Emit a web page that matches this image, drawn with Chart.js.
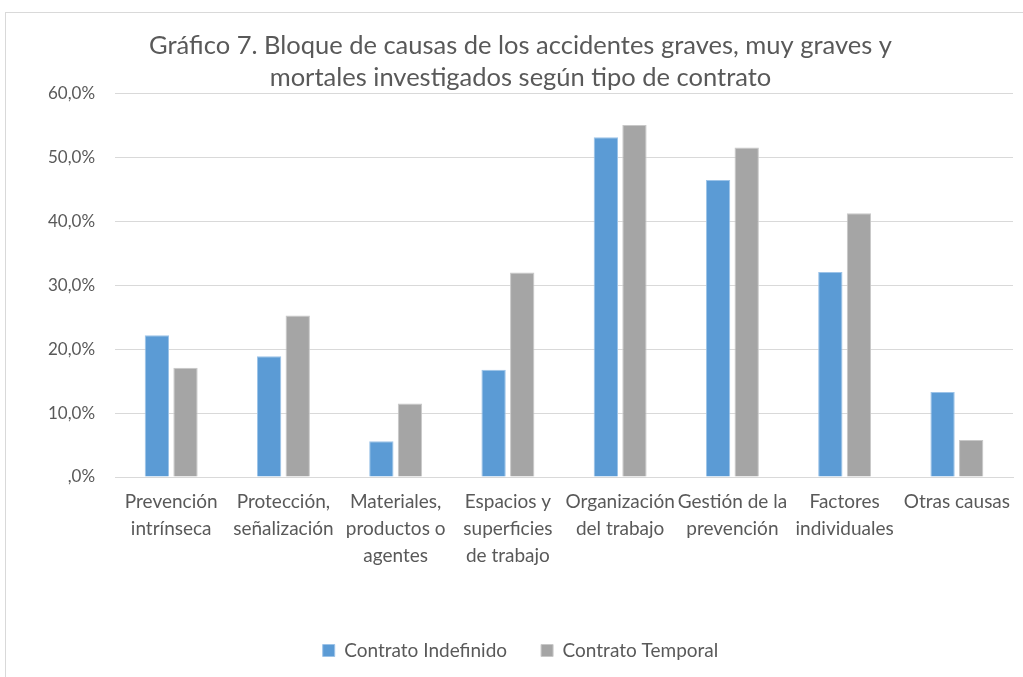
<!DOCTYPE html>
<html>
<head>
<meta charset="utf-8">
<script src="https://cdn.jsdelivr.net/npm/chart.js@4.4.1/dist/chart.umd.min.js"></script>
<style>
  html, body { margin: 0; padding: 0; background: #fff; overflow: hidden; }
  #box { position: absolute; left: 5px; top: 12px; width: 1025px; height: 690px; border: 1px solid #d9d9d9; }
  #wrap { position: absolute; left: 0; top: 0; width: 1025px; height: 680px; }
</style>
</head>
<body>
<div id="box"><div id="wrap"><canvas id="chart"></canvas></div></div>
<script>
// categorias (con saltos de linea como en el original)
const categories = [
  ["Prevención", "intrínseca"],
  ["Protección,", "señalización"],
  ["Materiales,", "productos o", "agentes"],
  ["Espacios y", "superficies", "de trabajo"],
  ["Organización", "del trabajo"],
  ["Gestión de la", "prevención"],
  ["Factores", "individuales"],
  ["Otras causas"]
];
const indefinido = [22.2, 18.9, 5.6, 16.8, 53.2, 46.5, 32.1, 13.3];
const temporal   = [17.1, 25.3, 11.5, 32.0, 55.1, 51.6, 41.3, 5.8];
const seriesNames = ["Contrato Indefinido", "Contrato Temporal"];
const yTicks = [0, 10, 20, 30, 40, 50, 60];

const FONT = "Lato, 'Open Sans', sans-serif";
const txt = '#595959';

function pct(v) {
  if (v === 0) return ',0%';
  return v.toFixed(1).replace('.', ',') + '%';
}

new Chart(document.getElementById('chart'), {
  type: 'bar',
  data: {
    labels: categories,
    datasets: [
      { label: seriesNames[0], data: indefinido, backgroundColor: '#5b9bd5', borderColor: '#9cc3e8', borderWidth: 1 },
      { label: seriesNames[1], data: temporal, backgroundColor: '#a5a5a5', borderColor: '#c8c8c8', borderWidth: 1 }
    ]
  },
  options: {
    responsive: true,
    maintainAspectRatio: false,
    animation: false,
    datasets: { bar: { categoryPercentage: 0.51, barPercentage: 0.85 } },
    layout: { padding: { left: 22, right: 18, top: 0, bottom: 23 } },
    plugins: {
      title: {
        display: true,
        text: ["Gráfico 7. Bloque de causas de los accidentes graves, muy graves y",
               "mortales investigados según tipo de contrato"],
        color: txt,
        font: { family: FONT, size: 25.5, weight: 'normal', lineHeight: 1.25 },
        padding: { top: 17, bottom: 0 }
      },
      legend: {
        position: 'bottom',
        labels: {
          color: txt,
          font: { family: FONT, size: 19 },
          boxWidth: 12, boxHeight: 12,
          padding: 34
        }
      },
      tooltip: { enabled: false }
    },
    scales: {
      x: {
        grid: { display: false },
        border: { display: true, color: '#d9d9d9' },
        ticks: {
          color: txt, font: { family: FONT, size: 19, lineHeight: 1.42 },
          maxRotation: 0, minRotation: 0, autoSkip: false, padding: 3
        },
        afterFit: function (s) { s.height = 130; }
      },
      y: {
        min: 0, max: 60,
        afterBuildTicks: function (s) { s.ticks = yTicks.map(v => ({ value: v })); },
        grid: { color: '#d9d9d9', drawTicks: false },
        border: { display: false },
        ticks: {
          color: txt, font: { family: FONT, size: 17 }, padding: 20,
          callback: function (v) { return pct(v); }
        }
      }
    }
  }
});
</script>
</body>
</html>
